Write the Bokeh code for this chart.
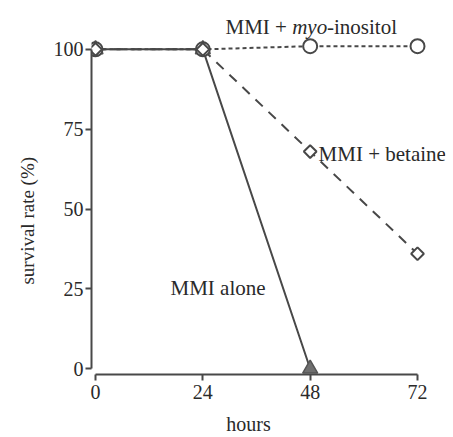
import numpy as np
from bokeh.plotting import figure
from bokeh.models import Range1d, Label, FixedTicker
from bokeh.embed import file_html
from bokeh.resources import INLINE

# data
hours = [0, 24, 48, 72]
mmi_alone_hours = [0, 24, 48]
mmi_alone = [100, 100, 0]
mmi_myo = [100, 100, 101, 101]
mmi_betaine = [100, 100, 68, 36]
x_ticks = [0, 24, 48, 72]
y_ticks = [0, 25, 50, 75, 100]

FONT = "Liberation Serif"
INK = "#484848"
TXT = "#2a2a2a"
NB = "\u00a0"

p = figure(width=453, height=437, output_backend="svg", toolbar_location=None,
           x_range=Range1d(-0.9, 78.26), y_range=Range1d(-1.8, 115.3),
           min_border_left=91, min_border_right=8, min_border_top=0,
           min_border_bottom=62)
p.outline_line_color = None
p.xgrid.visible = False
p.ygrid.visible = False
p.background_fill_color = "white"
p.border_fill_color = "white"

# lines
p.line(hours, mmi_betaine, line_color=INK, line_width=2, line_dash="10 8")
p.line(hours, mmi_myo, line_color=INK, line_width=2, line_dash="4 3")
p.line(mmi_alone_hours, mmi_alone, line_color=INK, line_width=2)

# markers
p.scatter(mmi_alone_hours, mmi_alone, marker="triangle", size=15,
          fill_color="#6f6f6f", line_color="#555555", line_width=1.5)
p.scatter(hours, mmi_myo, marker="circle", size=14,
          fill_color="white", line_color=INK, line_width=2)
p.scatter(hours, mmi_betaine, marker="square", size=9, angle=np.pi / 4,
          fill_color="white", line_color=INK, line_width=2)

# axes
for ax, ticks in ((p.xaxis[0], x_ticks), (p.yaxis[0], y_ticks)):
    ax.ticker = FixedTicker(ticks=ticks)
    ax.axis_line_color = INK
    ax.axis_line_width = 2
    ax.major_tick_line_color = INK
    ax.major_tick_line_width = 2
    ax.major_tick_out = 6
    ax.major_tick_in = 0
    ax.minor_tick_line_color = None
    ax.major_label_text_font = FONT
    ax.major_label_text_font_size = "20px"
    ax.major_label_text_color = TXT
    ax.axis_label_text_font = FONT
    ax.axis_label_text_font_style = "normal"
    ax.axis_label_text_color = TXT

p.xaxis.bounds = (0, 72)
p.yaxis.bounds = (0, 100)
p.xaxis.axis_label = "hours" + NB * 8
p.yaxis.axis_label = "survival rate (%)" + NB * 14
p.xaxis.axis_label_text_font_size = "20px"
p.yaxis.axis_label_text_font_size = "19px"
p.xaxis.major_label_standoff = 4
p.xaxis.axis_label_standoff = 11
p.yaxis.major_label_standoff = 2
p.yaxis.axis_label_standoff = 13

# series labels
def lab(x, y, t, style="normal"):
    p.add_layout(Label(x=x, y=y, text=t, text_font=FONT, text_font_size="21px",
                       text_font_style=style, text_color=TXT,
                       text_baseline="alphabetic", text_align="left"))

lab(29.07, 106.9, "MMI + ")
lab(29.07 + 14.9, 106.9, "myo", "italic")
lab(29.07 + 14.9 + 7.8, 106.9, "-inositol")
lab(49.87, 67.2, "MMI + betaine")
lab(16.77, 25.3, "MMI alone")

open("out.html", "w").write(file_html(p, INLINE))
